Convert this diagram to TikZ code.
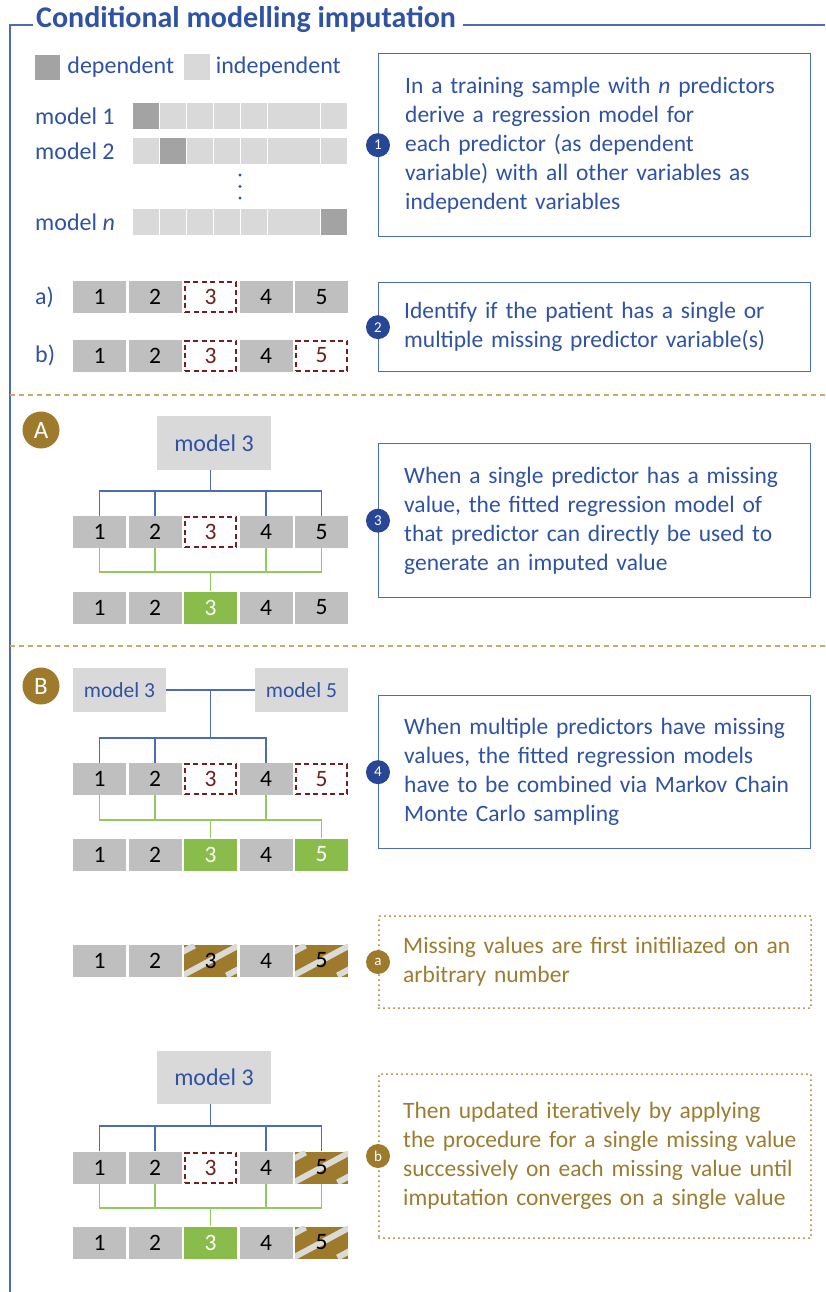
\documentclass[tikz,border=0pt]{standalone}
\usepackage{fontspec}
\setmainfont{Carlito}
\usepackage{tikz}
\usetikzlibrary{positioning,calc}

\definecolor{mainblue}{RGB}{47,82,162}
\definecolor{frameblue}{RGB}{76,108,184}
\definecolor{badgeblue}{RGB}{40,70,150}
\definecolor{cellgray}{RGB}{191,191,191}
\definecolor{modelgray}{RGB}{217,217,217}
\definecolor{depgray}{RGB}{163,163,163}
\definecolor{missred}{RGB}{112,32,32}
\definecolor{impgreen}{RGB}{137,188,74}
\definecolor{linkgreen}{RGB}{146,200,96}
\definecolor{initgold}{RGB}{158,122,44}
\definecolor{textgold}{RGB}{155,124,48}
\definecolor{sepgold}{RGB}{200,170,110}
\definecolor{stripegray}{RGB}{218,218,214}

% one row of five predictor cells, styles given as a list
\newcommand\cellrow[3]{%
  \foreach \s [count=\i] in {#3}
    \node[\s] (#1\i) at ({99.5+55.5*(\i-1)},#2) {\i};%
}

\tikzset{
  cell/.style={fill=cellgray, minimum width=53pt, minimum height=32pt, inner sep=0pt,
    font=\fontsize{23.5}{23.5}\selectfont},
  misscell/.style={cell, fill=white, draw=missred, line width=2pt,
    dash pattern=on 5pt off 3.5pt, text=missred, minimum width=51pt, minimum height=30pt},
  impcell/.style={cell, fill=impgreen, text=white},
  initcell/.style={cell, fill=initgold, path picture={
    \foreach \d in {-44,0,44}
      \draw[stripegray, line width=6pt] ([xshift=\d pt]path picture bounding box.center)
        ++(-28pt,-15pt) -- ++(56pt,30pt);}},
  modelbox/.style={fill=modelgray, text=mainblue, inner sep=0pt, font=\fontsize{24}{24}\selectfont},
  bluelink/.style={draw=frameblue, line width=1.5pt},
  greenlink/.style={draw=linkgreen, line width=1.5pt},
  frameline/.style={draw=frameblue, line width=1.5pt},
  sepline/.style={draw=sepgold, line width=1.3pt, dash pattern=on 5pt off 4pt},
  stepbox/.style={draw=frameblue, line width=1.3pt, inner sep=0pt, minimum width=432pt, anchor=north west},
  goldbox/.style={draw=textgold, line width=2pt, dash pattern=on 0pt off 5pt, line cap=round,
    inner sep=0pt, minimum width=432pt, anchor=north west},
  steptext/.style={text=mainblue, align=left, text width=430pt, inner sep=0pt, anchor=west,
    font=\fontsize{23.5}{29}\selectfont},
  goldtext/.style={steptext, text=textgold},
  badge/.style={circle, fill=badgeblue, text=white, inner sep=0pt, minimum size=24pt,
    font=\fontsize{15}{15}\selectfont},
  goldbadge/.style={badge, fill=initgold},
  bigbadge/.style={circle, fill=initgold, text=white, inner sep=0pt, minimum size=37pt,
    font=\fontsize{25}{25}\selectfont},
  lbl/.style={text=mainblue, inner sep=0pt, anchor=west, font=\fontsize{24}{24}\selectfont},
}

\begin{document}
\begin{tikzpicture}[x=1pt,y=-1pt]
\useasboundingbox (0,0) rectangle (825,1292);

% title and frame
\node[font=\fontsize{30}{30}\selectfont\bfseries, text=mainblue, inner sep=0pt, anchor=base west]
  (title) at (36,28) {Conditional modelling imputation};
\draw[frameline] ([shift={(-3pt,3pt)}]title.base west) -- (10,25) -- (10,1292);
\draw[frameline] ([shift={(7pt,3pt)}]title.base east) -- (825,25);

% legend
\node[minimum size=25pt, inner sep=0pt, fill=depgray] (legdep) at (47.5,67.5) {};
\node[lbl, right=7pt of legdep] (legdeptxt) {dependent};
\node[minimum size=26pt, inner sep=0pt, fill=modelgray] (legind) at (196.5,67.5) {};
\node[lbl, right=6pt of legind] (legindtxt) {independent};

% one regression model per predictor
\node[lbl] (lab1) at (35,116) {model 1};
\node[lbl] (lab2) at (35,151.5) {model 2};
\node[lbl] (labn) at (35,222.5) {model \textit{n}};
\foreach \y/\dep in {103/0,138/1,209/7} {
  \foreach \i in {0,...,7}
    \fill[modelgray] ({133+26.9*\i},\y) rectangle ++(26,26);
  \fill[depgray] ({133+26.9*\dep},\y) rectangle ++(26,26);
}
\foreach \y in {175,186.5,198}
  \fill[mainblue] (240,\y) circle (1.7pt);

\node[stepbox, minimum height=183pt] (box1) at (378,53) {};
\node[badge] (n1) at (box1.west) {1};
\node[steptext, right=27pt of box1.west] (txt1) {In a training sample with \textit{n} predictors\\
  derive a regression model for\\each predictor (as dependent\\
  variable) with all other variables as\\independent variables};

% single or multiple missing
\node[lbl] (laba) at (35,297) {a)};
\node[lbl] (labb) at (35,355.5) {b)};
\cellrow{ra}{297}{cell,cell,misscell,cell,cell}
\cellrow{rb}{355.5}{cell,cell,misscell,cell,misscell}

\node[stepbox, minimum height=89pt] (box2) at (378,282) {};
\node[badge] (n2) at (box2.west) {2};
\node[steptext, right=26pt of box2.west] (txt2) {Identify if the patient has a single or\\
  multiple missing predictor variable(s)};

\draw[sepline] (10,395) -- (825,395);

% A: single missing value
\node[bigbadge] (secA) at (41,430) {A};
\node[modelbox, minimum width=114pt, minimum height=54pt] (mA) at (214,443) {model 3};
\cellrow{Am}{532}{cell,cell,misscell,cell,cell}
\cellrow{Ab}{607.5}{cell,cell,impcell,cell,cell}
\coordinate (busA) at (0,491);
\draw[bluelink] (Am3 |- mA.south) -- (Am3 |- busA);
\draw[bluelink] (Am1.north) |- (Am5 |- busA) -- (Am5.north);
\foreach \i in {2,4}
  \draw[bluelink] (Am\i.north) -- (Am\i |- busA);
\coordinate (gbusA) at (0,572);
\draw[greenlink] (Am1.south) |- (Am5 |- gbusA) -- (Am5.south);
\foreach \i in {2,4}
  \draw[greenlink] (Am\i.south) -- (Am\i |- gbusA);
\draw[greenlink] (Am3 |- gbusA) -- (Ab3.north);

\node[stepbox, minimum height=154pt] (box3) at (378,443) {};
\node[badge] (n3) at (box3.west) {3};
\node[steptext, right=26pt of box3.west] (txt3) {When a single predictor has a missing\\
  value, the fitted regression model of\\that predictor can directly be used to\\
  generate an imputed value};

\draw[sepline] (10,646) -- (825,646);

% B: multiple missing values
\node[bigbadge] (secB) at (41,686) {B};
\node[modelbox, minimum width=93pt, minimum height=44pt, font=\fontsize{21.5}{21.5}\selectfont]
  (mB3) at (119.5,690) {model 3};
\node[modelbox, minimum width=93pt, minimum height=44pt, font=\fontsize{21.5}{21.5}\selectfont]
  (mB5) at (301.5,690) {model 5};
\cellrow{Bm}{779}{cell,cell,misscell,cell,misscell}
\cellrow{Bb}{854.5}{cell,cell,impcell,cell,impcell}
\draw[bluelink] (mB3.east) -- (mB5.west);
\coordinate (busB) at (0,738);
\draw[bluelink] (Bm3 |- mB3.east) -- (Bm3 |- busB);
\draw[bluelink] (Bm1.north) |- (Bm4 |- busB) -- (Bm4.north);
\draw[bluelink] (Bm2.north) -- (Bm2 |- busB);
\coordinate (gbusB) at (0,820);
\draw[greenlink] (Bm1.south) |- (Bb5 |- gbusB) -- (Bb5.north);
\foreach \i in {2,4}
  \draw[greenlink] (Bm\i.south) -- (Bm\i |- gbusB);
\draw[greenlink] (Bb3 |- gbusB) -- (Bb3.north);

\node[stepbox, minimum height=153pt] (box4) at (378,695) {};
\node[badge] (n4) at (box4.west) {4};
\node[steptext, right=26pt of box4.west] (txt4) {When multiple predictors have missing\\
  values, the fitted regression models\\have to be combined via Markov Chain\\
  Monte Carlo sampling};

% a: initialisation
\cellrow{ir}{960.5}{cell,cell,initcell,cell,initcell}
\node[goldbox, minimum height=92pt] (boxa) at (378,915) {};
\node[goldbadge] (na) at (boxa.west) {a};
\node[goldtext, right=25pt of boxa.west] (txta) {Missing values are first initiliazed on an\\
  arbitrary number};

% b: iterative updating
\node[modelbox, minimum width=114pt, minimum height=53pt] (mb) at (214,1077.5) {model 3};
\cellrow{bm}{1167.5}{cell,cell,misscell,cell,initcell}
\cellrow{bb}{1242.5}{cell,cell,impcell,cell,initcell}
\coordinate (busb) at (0,1126);
\draw[bluelink] (bm3 |- mb.south) -- (bm3 |- busb);
\draw[bluelink] (bm1.north) |- (bm5 |- busb) -- (bm5.north);
\foreach \i in {2,4}
  \draw[bluelink] (bm\i.north) -- (bm\i |- busb);
\coordinate (gbusb) at (0,1208);
\draw[greenlink] (bm1.south) |- (bm5 |- gbusb) -- (bm5.south);
\foreach \i in {2,4}
  \draw[greenlink] (bm\i.south) -- (bm\i |- gbusb);
\draw[greenlink] (bm3 |- gbusb) -- (bb3.north);

\node[goldbox, minimum height=164pt] (boxb) at (378,1073) {};
\node[goldbadge] (nb) at (boxb.west) {b};
\node[goldtext, right=25pt of boxb.west] (txtb) {Then updated iteratively by applying\\
  the procedure for a single missing value\\successively on each missing value until\\
  imputation converges on a single value};
\end{tikzpicture}
\end{document}
